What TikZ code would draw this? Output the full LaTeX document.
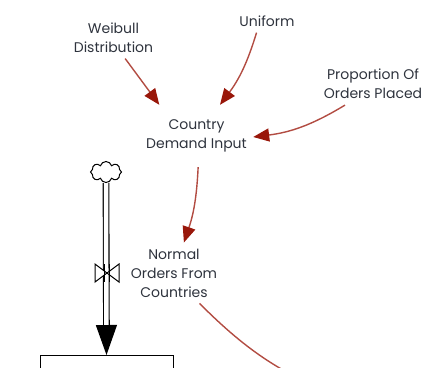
\documentclass[tikz,border=0pt]{standalone}
\usepackage{fontspec}
\setmainfont{Poppins}
\usetikzlibrary{arrows.meta,shapes.symbols}
\newlength{\du}
\setlength{\du}{1pt}
\definecolor{linkcolor}{rgb}{0.700000, 0.300000, 0.260000}
\definecolor{tipcolor}{rgb}{0.600000, 0.090000, 0.040000}
\definecolor{labelcolor}{rgb}{0.180000, 0.200000, 0.240000}
\tikzset{
  aux/.style={align=center, inner sep=6\du, text=labelcolor, font=\fontsize{14}{19}\selectfont},
  link/.style={draw=linkcolor, line width=1.4pt, -{Triangle[length=16pt,width=13pt,color=tipcolor]}},
  flowpipe/.style={draw=black, line width=1.1pt, double=white, double distance=4.5pt, -{Triangle[length=30pt,width=21pt]}},
}

\begin{document}
\begin{tikzpicture}
\pgftransformyscale{-1.000000}
\path[use as bounding box, clip] (0\du,0\du) rectangle (425\du,367\du);
% auxiliaries
\node[aux] (weibull) at (113.5\du,37.5\du) {Weibull\\Distribution};
\node[aux] (uniform) at (267\du,21\du) {Uniform};
\node[aux] (proportion) at (373\du,84\du) {Proportion Of\\Orders Placed};
\node[aux, inner sep=0pt, minimum width=113\du, minimum height=62\du] (demand) at (196.5\du,136\du) {Country\\Demand Input};
\node[aux] (normalorders) at (174\du,273\du) {Normal\\Orders From\\Countries};
% stock with its inflow from the cloud
\node[draw, line width=1pt, minimum width=133\du, minimum height=80\du, anchor=north] (stock) at (106.5\du,355\du) {};
\node[cloud, draw, cloud puffs=8, aspect=1.4, minimum width=31\du, minimum height=21\du, line width=1pt, inner sep=0pt] (source) at (106\du,172\du) {};
\coordinate (valve) at (107\du,273\du);
\draw[flowpipe] (source.south) -- (stock.north);
\draw[line width=1pt, fill=white] (valve) -- ++(-12\du,-9\du) -- ++(0,18\du) -- cycle;
\draw[line width=1pt, fill=white] (valve) -- ++(12\du,-9\du) -- ++(0,18\du) -- cycle;
\draw[line width=1.1pt] (valve) ++(-2.25\du,-9\du) -- ++(0,18\du) ++(4.5\du,0) -- ++(0,-18\du);
% links (bends read mirrored because of the flipped y axis)
\coordinate (outflow) at (348\du,400\du);
\draw[link] (weibull.-61) -- (demand.140);
\draw[link] (uniform.-132) to[bend right=10] (demand.53);
\draw[link] (proportion.-143) to[bend right=12] (demand.-1);
\draw[link] (demand.-87) to[bend right=8] (normalorders.72);
\draw[link, -] (normalorders.-50) to[bend left=12] (outflow);
\end{tikzpicture}
\end{document}
